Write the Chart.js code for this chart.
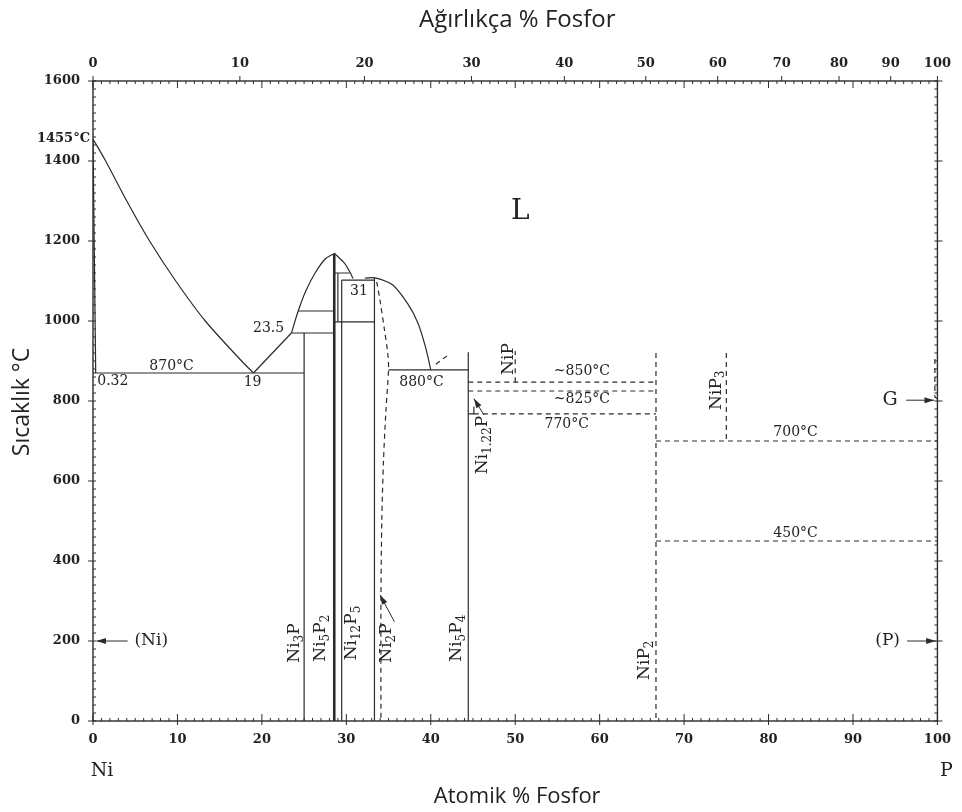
<!DOCTYPE html>
<html lang="tr">
<head>
<meta charset="utf-8">
<title>Ni-P Faz Diyagramı</title>
<script src="https://cdn.jsdelivr.net/npm/chart.js@4.4.0/dist/chart.umd.min.js"></script>
<style>
  html, body { margin: 0; padding: 0; background: #fff; }
  #wrap { width: 962px; height: 812px; }
</style>
</head>
<body>
<div id="wrap"><canvas id="phaseChart" width="962" height="812"></canvas></div>
<script>
// Tick labels
const atTicks = [0, 10, 20, 30, 40, 50, 60, 70, 80, 90, 100];
const wtTicks = [0, 10, 20, 30, 40, 50, 60, 70, 80, 90, 100];
const tempTicks = [0, 200, 400, 600, 800, 1000, 1200, 1400, 1600];

// Phase boundaries, [at% P, °C]
const liquidusNi = [[0, 1455], [1.5, 1400], [4.0, 1300], [6.7, 1200], [9.8, 1100], [13.3, 1000], [17.6, 900], [19, 870]];
const liquidusNi3P = [[19, 870], [23.5, 970]];
const liquidusNi5P2Left = [[23.5, 970], [24.3, 1025], [25.2, 1075], [26.3, 1120], [27.5, 1155], [28.6, 1169]];
const liquidusNi5P2Right = [[28.6, 1169], [29.8, 1144], [30.4, 1123], [30.8, 1106]];
const liquidusNi2P = [[32.2, 1107], [33.4, 1108], [35.5, 1090], [37.3, 1042], [38.5, 994], [39.4, 933], [40.0, 878]];
const solidusNi = [[0, 1455], [0.32, 870]];
const ni2pBoundary = [[33.6, 1098], [34.0, 1050], [34.5, 980], [34.9, 920], [35.0, 880], [34.7, 780], [34.4, 650], [34.2, 500], [34.1, 300], [34.1, 0]];

// Invariant lines and compounds (solid)
const eutectic870 = [[0, 870], [25, 870]];
const line970 = [[23.5, 970], [28.57, 970]];
const line1025 = [[24.3, 1025], [28.57, 1025]];
const line1120 = [[28.57, 1120], [30.4, 1120]];
const line1102 = [[29.45, 1102], [33.4, 1102]];
const line998 = [[28.57, 998], [33.33, 998]];
const eutectic880 = [[35.0, 878], [44.44, 878]];
const ni3p = [[25, 970], [25, 0]];
const ni5p2 = [[28.57, 1169], [28.57, 0]];
const ni5p2Inner = [[29.0, 1120], [29.0, 998]];
const ni12p5 = [[29.45, 1102], [29.45, 0]];
const ni2p = [[33.33, 1108], [33.33, 0]];
const ni5p4 = [[44.44, 922], [44.44, 0]];
const ni122p = [[44.44, 768], [45.1, 768], [45.1, 786]];

// Uncertain lines (dashed)
const line850 = [[44.44, 847], [66.67, 847]];
const line825 = [[44.44, 825], [66.67, 825]];
const line770 = [[45.1, 768], [66.67, 768]];
const nip = [[50, 847], [50, 925]];
const nip2 = [[66.67, 920], [66.67, 0]];
const nip3 = [[75, 920], [75, 700]];
const line700 = [[66.67, 700], [100, 700]];
const line450 = [[66.67, 450], [100, 450]];
const pSide = [[99.7, 905], [99.7, 810], [100, 805]];
const metastable880 = [[40.6, 892], [42.2, 917]];

const LINE = '#2b2b2b';
const TEXT = '#222';
const SERIF = '"DejaVu Serif", "Liberation Serif", serif';
const SANS = '"Open Sans", "Noto Sans", sans-serif';

// weight % P -> atomic % P (Ni 58.69, P 30.97)
function wtToAt(w) {
    if (w <= 0) return 0;
    if (w >= 100) return 100;
    const p = w / 30.97, n = (100 - w) / 58.69;
    return 100 * p / (p + n);
}

class PhaseDiagramApp {
    constructor() {
        this.chart = null;
        this.init();
    }

    init() {
        this.labels = [
            { text: 'L', at: 50.6, t: 1272, size: 28 },
            { text: '870°C', at: 9.3, t: 887 },
            { text: '0.32', at: 2.35, t: 850 },
            { text: '19', at: 18.9, t: 847 },
            { text: '23.5', at: 20.8, t: 982 },
            { text: '31', at: 31.5, t: 1075 },
            { text: '880°C', at: 38.9, t: 847 },
            { text: '~850°C', at: 57.9, t: 875 },
            { text: '~825°C', at: 57.9, t: 805 },
            { text: '770°C', at: 56.1, t: 742 },
            { text: '700°C', at: 83.2, t: 722 },
            { text: '450°C', at: 83.2, t: 470 },
            { text: 'G', at: 94.4, t: 802, size: 19 },
            { text: '(P)', at: 94.1, t: 200, size: 17 },
            { text: '(Ni)', at: 6.9, t: 200, size: 17 },
            { text: 'Ni3P', at: 23.9, t: 195, chem: true },
            { text: 'Ni5P2', at: 27.0, t: 207, chem: true },
            { text: 'Ni12P5', at: 30.6, t: 220, chem: true },
            { text: 'Ni2P', at: 34.8, t: 195, chem: true },
            { text: 'Ni5P4', at: 43.1, t: 207, chem: true },
            { text: 'NiP2', at: 65.3, t: 152, chem: true },
            { text: 'NiP3', at: 73.8, t: 827, chem: true },
            { text: 'NiP', at: 49.2, t: 905, chem: true },
            { text: 'Ni1.22P', at: 46.1, t: 690, chem: true }
        ];
        this.arrows = [
            { from: [4.1, 200], to: [0.4, 200] },
            { from: [96.4, 200], to: [99.8, 200] },
            { from: [96.3, 802], to: [99.6, 802] },
            { from: [35.7, 248], to: [34.0, 315] },
            { from: [46.3, 765], to: [45.1, 806] }
        ];
        this.buildChart();
    }

    /* --- Datasets --- */
    line(points, opts = {}) {
        return {
            data: points.map(p => ({ x: p[0], y: p[1] })),
            showLine: true,
            pointRadius: 0,
            borderColor: LINE,
            borderWidth: opts.width || 1.2,
            borderDash: opts.dash ? [5, 4] : [],
            tension: opts.curve ? 0.3 : 0,
            fill: false
        };
    }

    buildDatasets() {
        const solid = [liquidusNi3P, eutectic870, line970, line1025, line1120, line1102, line998, eutectic880,
            ni3p, ni5p2Inner, ni12p5, ni2p, ni5p4, ni122p, solidusNi];
        const dashed = [line850, line825, line770, nip, nip2, nip3, line700, line450, pSide, metastable880];
        const sets = [];
        [liquidusNi, liquidusNi5P2Left, liquidusNi5P2Right, liquidusNi2P].forEach(c => sets.push(this.line(c, { curve: true })));
        sets.push(this.line(ni2pBoundary, { curve: true, dash: true }));
        solid.forEach(s => sets.push(this.line(s)));
        sets.push(this.line(ni5p2, { width: 2.6 }));
        dashed.forEach(s => sets.push(this.line(s, { dash: true })));
        return sets;
    }

    /* --- Decorations: frame, ticks, labels, arrows --- */
    drawChem(ctx, text, size) {
        const parts = text.match(/[A-Za-z()]+|[\d.]+/g);
        const sub = Math.round(size * 0.72);
        let total = 0;
        const items = parts.map(p => {
            const isSub = /^[\d.]+$/.test(p);
            ctx.font = `${isSub ? sub : size}px ${SERIF}`;
            const w = ctx.measureText(p).width;
            total += w;
            return { p, isSub, w };
        });
        let cx = -total / 2;
        items.forEach(it => {
            ctx.font = `${it.isSub ? sub : size}px ${SERIF}`;
            ctx.textAlign = 'left';
            ctx.fillText(it.p, cx, it.isSub ? size * 0.3 : 0);
            cx += it.w;
        });
    }

    decorPlugin() {
        const app = this;
        return {
            id: 'phaseDecor',
            afterDatasetsDraw(chart) {
                const { ctx, chartArea: a, scales: { x, y } } = chart;
                ctx.save();
                ctx.strokeStyle = LINE;
                ctx.lineWidth = 1.4;
                ctx.strokeRect(a.left, a.top, a.right - a.left, a.bottom - a.top);

                // ticks
                ctx.lineWidth = 1;
                ctx.beginPath();
                for (let v = 0; v <= 100; v++) {
                    const px = x.getPixelForValue(v);
                    const len = v % 10 === 0 ? 7 : 3;
                    ctx.moveTo(px, a.bottom); ctx.lineTo(px, a.bottom - len);
                    ctx.moveTo(px, a.top); ctx.lineTo(px, a.top + len);
                    if (v % 10 === 0) { ctx.moveTo(px, a.bottom); ctx.lineTo(px, a.bottom + 4); }
                }
                wtTicks.forEach(w => {
                    const px = x.getPixelForValue(wtToAt(w));
                    ctx.moveTo(px, a.top); ctx.lineTo(px, a.top - 5);
                });
                for (let t = 0; t <= 1600; t += 20) {
                    const py = y.getPixelForValue(t);
                    ctx.moveTo(a.left, py); ctx.lineTo(a.left + 3, py);
                    ctx.moveTo(a.right, py); ctx.lineTo(a.right - 3, py);
                    if (t % 200 === 0) {
                        ctx.moveTo(a.left, py); ctx.lineTo(a.left - 5, py);
                        ctx.moveTo(a.right, py); ctx.lineTo(a.right + 5, py);
                    }
                }
                ctx.stroke();

                // arrows
                ctx.fillStyle = LINE;
                app.arrows.forEach(ar => {
                    const x0 = x.getPixelForValue(ar.from[0]), y0 = y.getPixelForValue(ar.from[1]);
                    const x1 = x.getPixelForValue(ar.to[0]), y1 = y.getPixelForValue(ar.to[1]);
                    const ang = Math.atan2(y1 - y0, x1 - x0);
                    ctx.beginPath();
                    ctx.moveTo(x0, y0); ctx.lineTo(x1, y1);
                    ctx.stroke();
                    ctx.beginPath();
                    ctx.moveTo(x1, y1);
                    ctx.lineTo(x1 - 10 * Math.cos(ang - 0.3), y1 - 10 * Math.sin(ang - 0.3));
                    ctx.lineTo(x1 - 10 * Math.cos(ang + 0.3), y1 - 10 * Math.sin(ang + 0.3));
                    ctx.closePath();
                    ctx.fill();
                });

                // labels
                ctx.fillStyle = TEXT;
                ctx.textBaseline = 'middle';
                app.labels.forEach(l => {
                    const px = x.getPixelForValue(l.at), py = y.getPixelForValue(l.t);
                    ctx.save();
                    ctx.translate(px, py);
                    if (l.chem) {
                        ctx.rotate(-Math.PI / 2);
                        app.drawChem(ctx, l.text, 17);
                    } else {
                        ctx.font = `${l.size || 14}px ${SERIF}`;
                        ctx.textAlign = 'center';
                        ctx.fillText(l.text, 0, 0);
                    }
                    ctx.restore();
                });

                // left melting point label
                ctx.font = `bold 13px ${SERIF}`;
                ctx.textAlign = 'right';
                ctx.fillText('1455°C', a.left - 3, y.getPixelForValue(1455));

                // element names
                ctx.font = `19px ${SERIF}`;
                ctx.textAlign = 'center';
                ctx.fillText('Ni', a.left + 9, 771);
                ctx.fillText('P', a.right + 9, 771);

                // axis titles
                const mid = (a.left + a.right) / 2;
                ctx.font = `24px ${SANS}`;
                ctx.fillText('Ağırlıkça % Fosfor', mid + 2, 20);
                ctx.font = `22px ${SANS}`;
                ctx.fillText('Atomik % Fosfor', mid + 2, 797);
                ctx.save();
                ctx.translate(22, 402);
                ctx.rotate(-Math.PI / 2);
                ctx.font = `23px ${SANS}`;
                ctx.fillText('Sıcaklık °C', 0, 0);
                ctx.restore();

                ctx.restore();
            }
        };
    }

    buildChart() {
        const ctx = document.getElementById('phaseChart');
        const tickFont = { family: SERIF, size: 13, weight: 'bold' };
        const axisBase = {
            type: 'linear',
            grid: { display: false, drawTicks: false },
            border: { display: false },
            ticks: { font: tickFont, color: TEXT, autoSkip: false, maxRotation: 0, callback: v => String(v) }
        };

        this.chart = new Chart(ctx, {
            type: 'scatter',
            data: { datasets: this.buildDatasets() },
            options: {
                responsive: false,
                animation: false,
                layout: { padding: { right: 19, left: 0, top: 0, bottom: 0 } },
                plugins: { legend: { display: false }, tooltip: { enabled: false } },
                scales: {
                    x: {
                        ...axisBase, position: 'bottom', min: 0, max: 100,
                        ticks: { ...axisBase.ticks, padding: 11 },
                        afterBuildTicks: axis => { axis.ticks = atTicks.map(v => ({ value: v })); },
                        afterFit: s => { s.height = 91; }
                    },
                    x2: {
                        ...axisBase, position: 'top', min: 0, max: 100,
                        ticks: { ...axisBase.ticks, padding: 10, callback: (v, i) => String(wtTicks[i]) },
                        afterBuildTicks: axis => { axis.ticks = wtTicks.map(w => ({ value: wtToAt(w) })); },
                        afterFit: s => { s.height = 81; }
                    },
                    y: {
                        ...axisBase, position: 'left', min: 0, max: 1600,
                        ticks: { ...axisBase.ticks, padding: 13 },
                        afterBuildTicks: axis => { axis.ticks = tempTicks.map(v => ({ value: v })); },
                        afterFit: s => { s.width = 93; }
                    }
                }
            },
            plugins: [this.decorPlugin()]
        });
    }
}

const app = new PhaseDiagramApp();
</script>
</body>
</html>
